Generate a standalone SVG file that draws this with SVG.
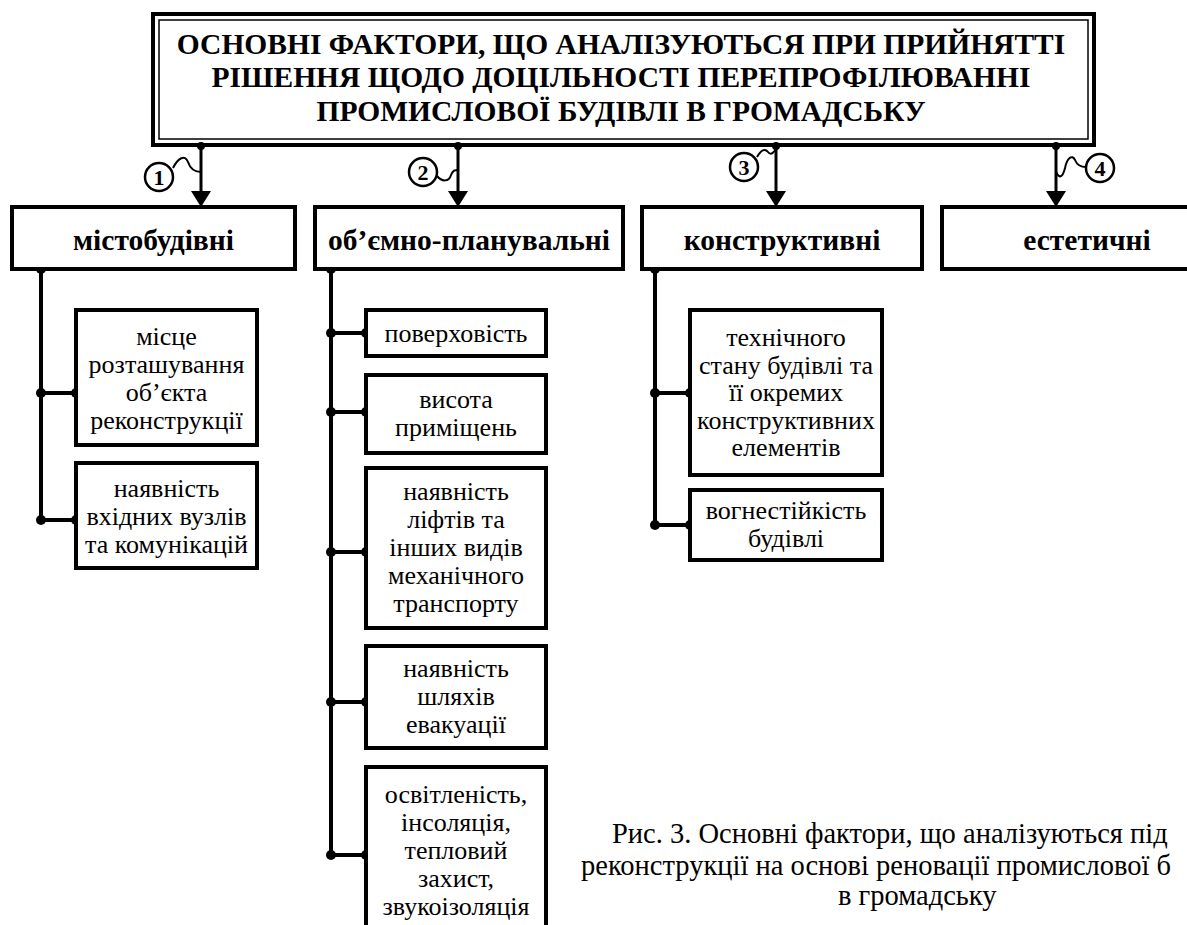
<svg xmlns="http://www.w3.org/2000/svg" width="1187" height="925" viewBox="0 0 1187 925">
<defs>
<style>
.box{fill:#fff;stroke:#000;stroke-width:4}
.ln{fill:none;stroke:#000;stroke-width:4}
.aw{fill:none;stroke:#000;stroke-width:3}
.wig{fill:none;stroke:#000;stroke-width:2}
.circ{fill:#fff;stroke:#000;stroke-width:2.5}
.dot{fill:#000}
text{font-family:"Liberation Serif","Times New Roman",serif;fill:#000}
.title{font-size:29.5px;font-weight:bold;text-anchor:middle}
.cat{font-size:29.5px;font-weight:bold;text-anchor:middle}
.sub{font-size:26px;text-anchor:middle}
.cap{font-size:28.5px}
.num{font-size:22px;font-weight:bold;text-anchor:middle}
</style>
<marker id="arr" markerUnits="userSpaceOnUse" viewBox="0 -10 16 20" refX="0" refY="0" markerWidth="16" markerHeight="20" orient="auto">
<path d="M0,-10 L16,0 L0,10 z" fill="#000"/>
</marker>
</defs>
<rect width="1187" height="925" fill="#fff"/>

<g id="title">
<rect x="153" y="14" width="941" height="131" fill="#fff" stroke="#000" stroke-width="4"/>
<rect x="159" y="20" width="929" height="119" fill="none" stroke="#000" stroke-width="1.5"/>
<text class="title" x="621" y="54">ОСНОВНІ ФАКТОРИ, ЩО АНАЛІЗУЮТЬСЯ ПРИ ПРИЙНЯТТІ</text>
<text class="title" x="621" y="87">РІШЕННЯ ЩОДО ДОЦІЛЬНОСТІ ПЕРЕПРОФІЛЮВАННІ</text>
<text class="title" x="621" y="121">ПРОМИСЛОВОЇ БУДІВЛІ В ГРОМАДСЬКУ</text>
</g>

<g id="connectors">
<line class="aw" x1="201" y1="145" x2="201" y2="191" marker-end="url(#arr)"/>
<line class="aw" x1="458" y1="145" x2="458" y2="191" marker-end="url(#arr)"/>
<line class="aw" x1="776" y1="145" x2="776" y2="191" marker-end="url(#arr)"/>
<line class="aw" x1="1056" y1="145" x2="1056" y2="191" marker-end="url(#arr)"/>
<circle class="dot" cx="201" cy="146" r="4"/>
<circle class="dot" cx="458" cy="146" r="4"/>
<circle class="dot" cx="776" cy="146" r="4"/>
<circle class="dot" cx="1056" cy="146" r="4"/>
<path class="wig" d="M173,168 C178,158 185,154 188,162 C190,168 194,172 201,172"/>
<path class="wig" d="M437,176 C442,182 449,182 451,175 C453,170 455,170 458,170"/>
<path class="wig" d="M757,157 C761,150 765,148 768,152 C771,156 774,152 776,149"/>
<path class="wig" d="M1056,172 C1060,180 1063,176 1065,168 C1067,158 1072,154 1075,160 C1077,165 1080,167 1086,167"/>

<line class="ln" x1="41" y1="269" x2="41" y2="520"/>
<line class="ln" x1="41" y1="393" x2="76" y2="393"/>
<line class="ln" x1="41" y1="520" x2="76" y2="520"/>
<circle class="dot" cx="41" cy="269" r="5"/>
<circle class="dot" cx="41" cy="393" r="5"/><circle class="dot" cx="76" cy="393" r="5"/>
<circle class="dot" cx="41" cy="520" r="5"/><circle class="dot" cx="76" cy="520" r="5"/>

<line class="ln" x1="331" y1="269" x2="331" y2="855"/>
<line class="ln" x1="331" y1="333" x2="366" y2="333"/>
<line class="ln" x1="331" y1="412" x2="366" y2="412"/>
<line class="ln" x1="331" y1="552" x2="366" y2="552"/>
<line class="ln" x1="331" y1="702" x2="366" y2="702"/>
<line class="ln" x1="331" y1="855" x2="366" y2="855"/>
<circle class="dot" cx="331" cy="269" r="5"/>
<circle class="dot" cx="331" cy="333" r="5"/><circle class="dot" cx="366" cy="333" r="5"/>
<circle class="dot" cx="331" cy="412" r="5"/><circle class="dot" cx="366" cy="412" r="5"/>
<circle class="dot" cx="331" cy="552" r="5"/><circle class="dot" cx="366" cy="552" r="5"/>
<circle class="dot" cx="331" cy="702" r="5"/><circle class="dot" cx="366" cy="702" r="5"/>
<circle class="dot" cx="331" cy="855" r="5"/><circle class="dot" cx="366" cy="855" r="5"/>

<line class="ln" x1="655" y1="269" x2="655" y2="525"/>
<line class="ln" x1="655" y1="393" x2="690" y2="393"/>
<line class="ln" x1="655" y1="525" x2="690" y2="525"/>
<circle class="dot" cx="655" cy="269" r="5"/>
<circle class="dot" cx="655" cy="393" r="5"/><circle class="dot" cx="690" cy="393" r="5"/>
<circle class="dot" cx="655" cy="525" r="5"/><circle class="dot" cx="690" cy="525" r="5"/>
</g>

<g id="num1"><circle class="circ" cx="159" cy="177" r="14"/><text class="num" x="159" y="185">1</text></g>
<g id="num2"><circle class="circ" cx="423" cy="172" r="14"/><text class="num" x="423" y="180">2</text></g>
<g id="num3"><circle class="circ" cx="744" cy="167" r="14"/><text class="num" x="744" y="175">3</text></g>
<g id="num4"><circle class="circ" cx="1100" cy="168" r="14"/><text class="num" x="1100" y="176">4</text></g>

<g id="cat1"><rect class="box" x="12" y="207" width="283" height="62"/><text class="cat" x="153.5" y="250">містобудівні</text></g>
<g id="cat2"><rect class="box" x="315" y="207" width="308" height="62"/><text class="cat" x="469" y="250">об’ємно-планувальні</text></g>
<g id="cat3"><rect class="box" x="642" y="207" width="280" height="62"/><text class="cat" x="782" y="250">конструктивні</text></g>
<g id="cat4"><rect class="box" x="942" y="207" width="298" height="62"/><text class="cat" x="1087" y="250">естетичні</text></g>

<g id="c1b1"><rect class="box" x="76" y="310" width="181" height="135"/>
<text class="sub" x="166.5" y="345">місце</text><text class="sub" x="166.5" y="373">розташування</text><text class="sub" x="166.5" y="401">об’єкта</text><text class="sub" x="166.5" y="429">реконструкції</text></g>
<g id="c1b2"><rect class="box" x="76" y="463" width="181" height="105"/>
<text class="sub" x="166.5" y="497">наявність</text><text class="sub" x="166.5" y="525">вхідних вузлів</text><text class="sub" x="166.5" y="553">та комунікацій</text></g>

<g id="c2b1"><rect class="box" x="366" y="310" width="180" height="46"/>
<text class="sub" x="456" y="342">поверховість</text></g>
<g id="c2b2"><rect class="box" x="366" y="375" width="180" height="78"/>
<text class="sub" x="456" y="408">висота</text><text class="sub" x="456" y="436">приміщень</text></g>
<g id="c2b3"><rect class="box" x="366" y="468" width="180" height="160"/>
<text class="sub" x="456" y="500">наявність</text><text class="sub" x="456" y="528">ліфтів та</text><text class="sub" x="456" y="556">інших видів</text><text class="sub" x="456" y="584">механічного</text><text class="sub" x="456" y="612">транспорту</text></g>
<g id="c2b4"><rect class="box" x="366" y="646" width="180" height="102"/>
<text class="sub" x="456" y="677">наявність</text><text class="sub" x="456" y="705">шляхів</text><text class="sub" x="456" y="733">евакуації</text></g>
<g id="c2b5"><rect class="box" x="366" y="767" width="180" height="175"/>
<text class="sub" x="456" y="803">освітленість,</text><text class="sub" x="456" y="831">інсоляція,</text><text class="sub" x="456" y="859">тепловий</text><text class="sub" x="456" y="887">захист,</text><text class="sub" x="456" y="915">звукоізоляція</text></g>

<g id="c3b1"><rect class="box" x="690" y="310" width="192" height="165"/>
<text class="sub" x="786" y="346">технічного</text><text class="sub" x="786" y="373.5">стану будівлі та</text><text class="sub" x="786" y="401">її окремих</text><text class="sub" x="786" y="428.5">конструктивних</text><text class="sub" x="786" y="456">елементів</text></g>
<g id="c3b2"><rect class="box" x="690" y="490" width="192" height="70"/>
<text class="sub" x="786" y="519">вогнестійкість</text><text class="sub" x="786" y="547">будівлі</text></g>

<g id="caption">
<text class="cap" x="612" y="843">Рис. 3. Основні фактори, що аналізуються під</text>
<text class="cap" x="581" y="875">реконструкції на основі реновації промислової б</text>
<text class="cap" x="838" y="905">в громадську</text>
</g>
</svg>
